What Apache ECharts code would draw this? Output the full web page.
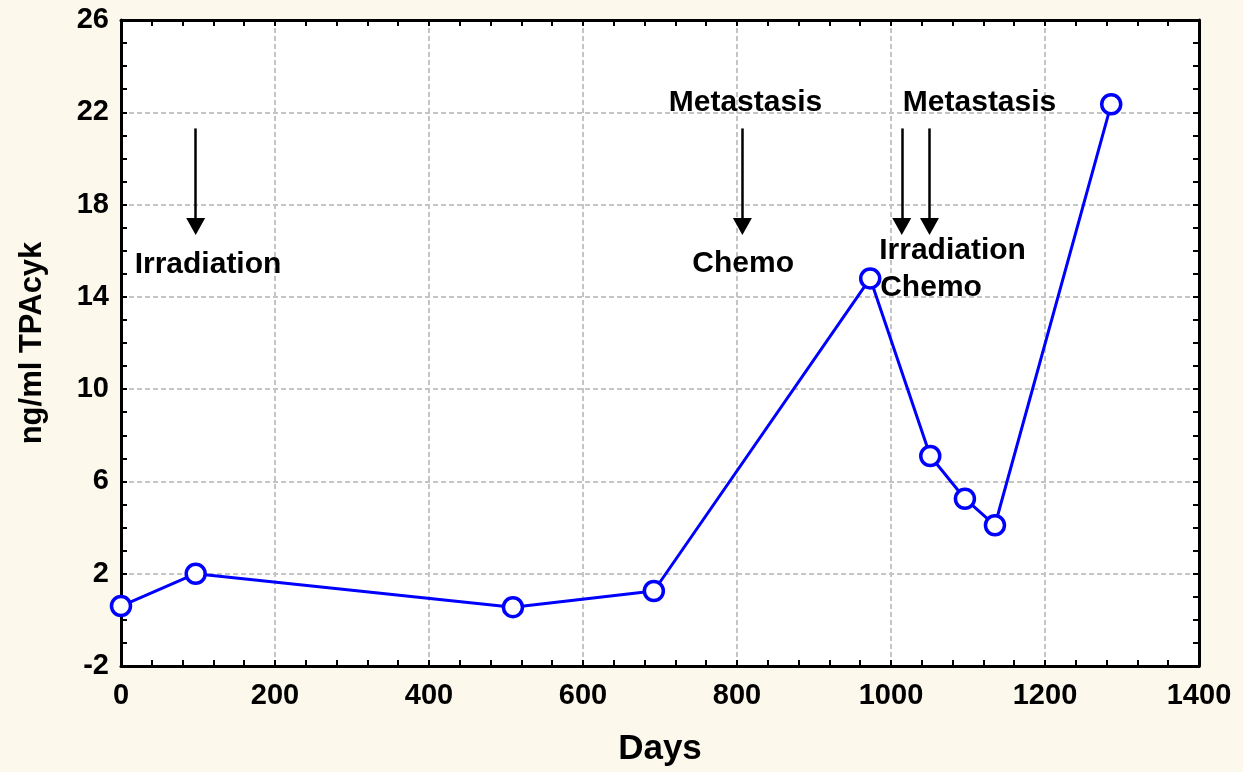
<!DOCTYPE html>
<html>
<head>
<meta charset="utf-8">
<title>TPAcyk over time</title>
<script src="https://cdn.jsdelivr.net/npm/echarts@6/dist/echarts.min.js"></script>
<style>
  html, body { margin: 0; padding: 0; background: #fcf8ec; }
  #chart { width: 1243px; height: 772px; }
</style>
</head>
<body>
<div id="chart"></div>
<script>
// Measurement days and TPAcyk concentrations (ng/ml)
const days = [0, 97, 509, 692, 973, 1051, 1096, 1135, 1286];
const tpa = [0.6, 2.0, 0.55, 1.25, 14.8, 7.1, 5.25, 4.1, 22.35];

// Axis ranges
const xMin = 0, xMax = 1400, xStep = 200;
const yMin = -2, yMax = 26, yStep = 4;

// Treatment / event arrows (day, top value, tip value)
const arrowDays = [97, 807, 1014, 1050];
const arrowTop = 21.3;
const arrowTip = 17.05;

// Annotation texts placed in data coordinates (centre of text)
const noteTexts = ['Irradiation', 'Metastasis', 'Chemo', 'Metastasis', 'Irradiation', 'Chemo'];
const noteDays = [113, 811, 808, 1115, 1080, 1052];
const noteValues = [15.4, 22.4, 15.45, 22.4, 16.0, 14.4];

const FONT = "'Liberation Sans', Arial, sans-serif";
const points = days.map((d, i) => [d, tpa[i]]);
const notes = noteTexts.map((t, i) => ({ value: [noteDays[i], noteValues[i]], label: { formatter: t } }));
const arrows = arrowDays.map(d => [{ coord: [d, arrowTop] }, { coord: [d, arrowTip] }]);

const tickStyle = { inside: true, length: 6, lineStyle: { color: '#000', width: 2 } };
const minorStyle = { show: true, length: 6, lineStyle: { color: '#000', width: 2 } };
const gridLine = { show: true, lineStyle: { color: '#c4c4c4', width: 2, type: [5, 3] } };
const plainNumber = v => String(v);

const chart = echarts.init(document.getElementById('chart'), null, { renderer: 'canvas' });
chart.setOption({
  backgroundColor: '#fcf8ec',
  animation: false,
  grid: {
    left: 121, right: 44, top: 20, bottom: 106,
    show: true, backgroundColor: '#ffffff', borderWidth: 0
  },
  xAxis: [{
    type: 'value', min: xMin, max: xMax, interval: xStep,
    name: 'Days', nameLocation: 'middle', nameGap: 66,
    nameTextStyle: { fontFamily: FONT, fontSize: 35, fontWeight: 'bold', color: '#000' },
    axisLine: { show: true, onZero: false, lineStyle: { color: '#000', width: 3 } },
    axisTick: tickStyle,
    minorTick: Object.assign({ splitNumber: 5 }, minorStyle),
    axisLabel: { fontFamily: FONT, fontSize: 29, fontWeight: 'bold', color: '#000', margin: 15, formatter: plainNumber },
    splitLine: gridLine
  }, {
    type: 'value', min: xMin, max: xMax, interval: xStep, position: 'top',
    axisLine: { show: true, onZero: false, lineStyle: { color: '#000', width: 3 } },
    axisTick: tickStyle,
    minorTick: Object.assign({ splitNumber: 5 }, minorStyle),
    axisLabel: { show: false },
    splitLine: { show: false }
  }],
  yAxis: [{
    type: 'value', min: yMin, max: yMax, interval: yStep,
    name: 'ng/ml TPAcyk', nameLocation: 'middle', nameGap: 73,
    nameTextStyle: { fontFamily: FONT, fontSize: 31, fontWeight: 'bold', color: '#000' },
    axisLine: { show: true, onZero: false, lineStyle: { color: '#000', width: 3 } },
    axisTick: tickStyle,
    minorTick: Object.assign({ splitNumber: 4 }, minorStyle),
    axisLabel: { fontFamily: FONT, fontSize: 29, fontWeight: 'bold', color: '#000', margin: 12, formatter: plainNumber },
    splitLine: gridLine
  }, {
    type: 'value', min: yMin, max: yMax, interval: yStep, position: 'right',
    axisLine: { show: true, onZero: false, lineStyle: { color: '#000', width: 3 } },
    axisTick: tickStyle,
    minorTick: Object.assign({ splitNumber: 4 }, minorStyle),
    axisLabel: { show: false },
    splitLine: { show: false }
  }],
  series: [{
    type: 'line',
    data: points,
    clip: true,
    symbol: 'circle',
    symbolSize: 19,
    showAllSymbol: true,
    lineStyle: { color: '#0000ff', width: 3 },
    itemStyle: { color: '#ffffff', borderColor: '#0000ff', borderWidth: 3.5 },
    z: 5,
    markLine: {
      silent: true,
      symbol: ['none', 'triangle'],
      symbolSize: [19, 17],
      label: { show: false },
      lineStyle: { color: '#000', width: 2.5, type: 'solid' },
      emphasis: { disabled: true },
      data: arrows
    }
  }, {
    type: 'scatter',
    data: notes,
    symbolSize: 0,
    silent: true,
    z: 6,
    itemStyle: { opacity: 1 },
    label: {
      show: true, position: 'inside',
      fontFamily: FONT, fontSize: 30, fontWeight: 'bold', color: '#000',
      textBorderWidth: 0, textBorderColor: 'transparent'
    }
  }]
});
</script>
</body>
</html>
